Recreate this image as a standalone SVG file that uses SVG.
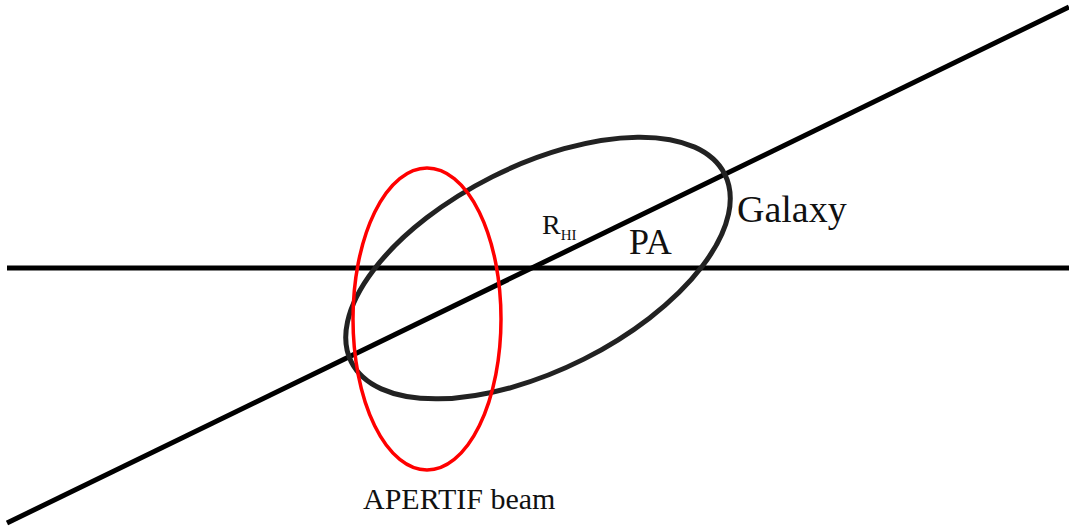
<svg xmlns="http://www.w3.org/2000/svg" width="1069" height="529" viewBox="0 0 1069 529">
<style>
.ln{stroke:#000;stroke-width:5;fill:none}
.lbl{font-family:"Liberation Serif","Times New Roman",serif;fill:#111}
</style>
<rect width="1069" height="529" fill="#fff"/>
<g id="connectors">
<line class="ln" x1="7" y1="268" x2="1069" y2="268"/>
<line class="ln" x1="7" y1="523" x2="1069" y2="7"/>
</g>
<g id="galaxy">
<ellipse cx="538" cy="268" rx="209" ry="102" transform="rotate(-26.7 538 268)" fill="none" stroke="#222" stroke-width="5"/>
<text class="lbl" x="737" y="222" font-size="38">Galaxy</text>
</g>
<g id="beam">
<ellipse cx="427" cy="319" rx="74" ry="151" fill="none" stroke="#f00" stroke-width="3.5"/>
<text class="lbl" x="363" y="509" font-size="30">APERTIF beam</text>
</g>
<g id="rhi">
<text class="lbl" x="542" y="234" font-size="28">R<tspan font-size="15" dy="6">HI</tspan></text>
</g>
<g id="pa">
<text class="lbl" x="629" y="254" font-size="36">PA</text>
</g>
</svg>
